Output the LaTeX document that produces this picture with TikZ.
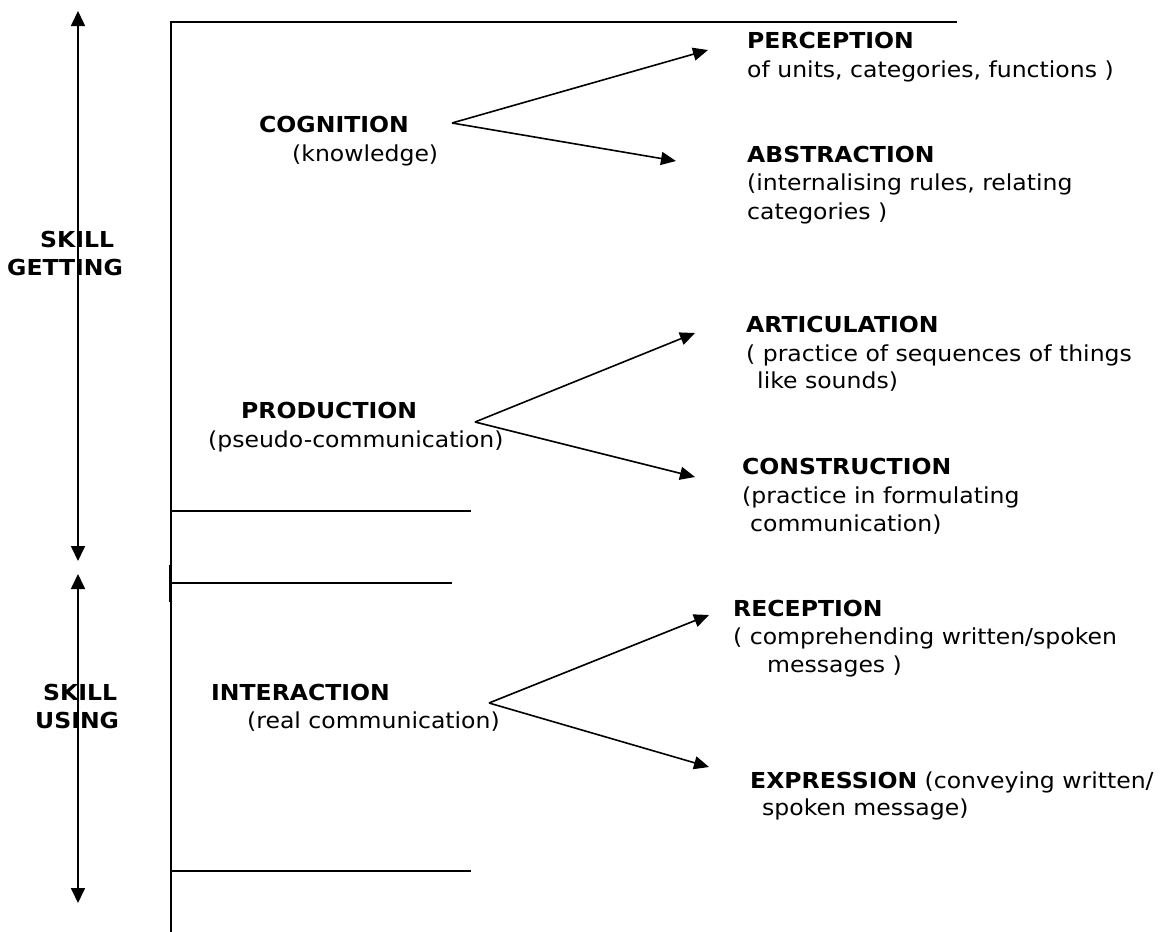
\documentclass[tikz,border=0pt]{standalone}
\usepackage{fontspec}
\setmainfont{DejaVu Sans}[FakeStretch=1.07]
\usetikzlibrary{arrows.meta}
\begin{document}
\begin{tikzpicture}[x=1pt,y=-1pt,
  lbl/.style={anchor=base west,inner sep=0pt,font=\fontsize{22}{28}\selectfont},
  hd/.style={lbl,font=\fontsize{22}{28}\selectfont\bfseries},
  rule/.style={line width=1.7pt},
  bigarrow/.style={line width=1.7pt,{Triangle[length=15pt,width=14pt]}-{Triangle[length=15pt,width=14pt]}},
  branch/.style={line width=1.6pt,-{Triangle[length=15pt,width=13pt]}}]
\useasboundingbox (0,0) rectangle (1160,932);
\fill[white] (0,0) rectangle (1160,932);

% frame lines
\coordinate (t0) at (171,22);
\coordinate (t1) at (957,22);
\coordinate (b0) at (171,932);
\draw[rule] (t1) -- (t0) -- (b0);
\coordinate (k0) at (170,565);
\coordinate (k1) at (170,602);
\draw[rule] (k0) -- (k1);
\coordinate (h1a) at (171,511); \coordinate (h1b) at (471,511);
\coordinate (h2a) at (171,583); \coordinate (h2b) at (452,583);
\coordinate (h3a) at (171,871); \coordinate (h3b) at (471,871);
\draw[rule] (h1a) -- (h1b);
\draw[rule] (h2a) -- (h2b);
\draw[rule] (h3a) -- (h3b);

% left arrows
\coordinate (g0) at (78,11); \coordinate (g1) at (78,561);
\coordinate (u0) at (78,574); \coordinate (u1) at (78,903);
\draw[bigarrow] (g0) -- (g1);
\draw[bigarrow] (u0) -- (u1);

\node[hd] (skillA) at (40,247) {SKILL};
\node[hd] (getting) at (7,275) {GETTING};
\node[hd] (skillB) at (43,700) {SKILL};
\node[hd] (using) at (35,728) {USING};

% left labels
\node[hd] (cog) at (259,132) {COGNITION};
\node[lbl] (cogs) at (292,161) {(knowledge)};
\node[hd] (prod) at (241,418) {PRODUCTION};
\node[lbl] (prods) at (208,447) {(pseudo-communication)};
\node[hd] (inter) at (211,700) {INTERACTION};
\node[lbl] (inters) at (247,728) {(real communication)};

% right labels
\node[hd] (perc) at (747,48) {PERCEPTION};
\node[lbl] (perc1) at (747,77) {of units, categories, functions )};
\node[hd] (abst) at (747,162) {ABSTRACTION};
\node[lbl] (abst1) at (747,190) {(internalising rules, relating};
\node[lbl] (abst2) at (747,219) {categories )};
\node[hd] (artic) at (746,332) {ARTICULATION};
\node[lbl] (artic1) at (746,361) {( practice of sequences of things};
\node[lbl] (artic2) at (757,388) {like sounds)};
\node[hd] (constr) at (742,474) {CONSTRUCTION};
\node[lbl] (constr1) at (742,503) {(practice in formulating};
\node[lbl] (constr2) at (750,531) {communication)};
\node[hd] (recep) at (733,616) {RECEPTION};
\node[lbl] (recep1) at (733,644) {( comprehending written/spoken};
\node[lbl] (recep2) at (767,672) {messages )};
\node[lbl] (expr) at (750,788) {\textbf{EXPRESSION} (conveying written/};
\node[lbl] (expr1) at (762,815) {spoken message)};

% branch arrows
\coordinate (co) at (452,123);
\coordinate (cu) at (708,50);
\coordinate (cl) at (676,161);
\draw[branch] (co) -- (cu);
\draw[branch] (co) -- (cl);
\coordinate (po) at (475,422);
\coordinate (pu) at (695,333);
\coordinate (pl) at (695,477);
\draw[branch] (po) -- (pu);
\draw[branch] (po) -- (pl);
\coordinate (io) at (489,703);
\coordinate (iu) at (709,615);
\coordinate (il) at (709,767);
\draw[branch] (io) -- (iu);
\draw[branch] (io) -- (il);
\end{tikzpicture}
\end{document}
